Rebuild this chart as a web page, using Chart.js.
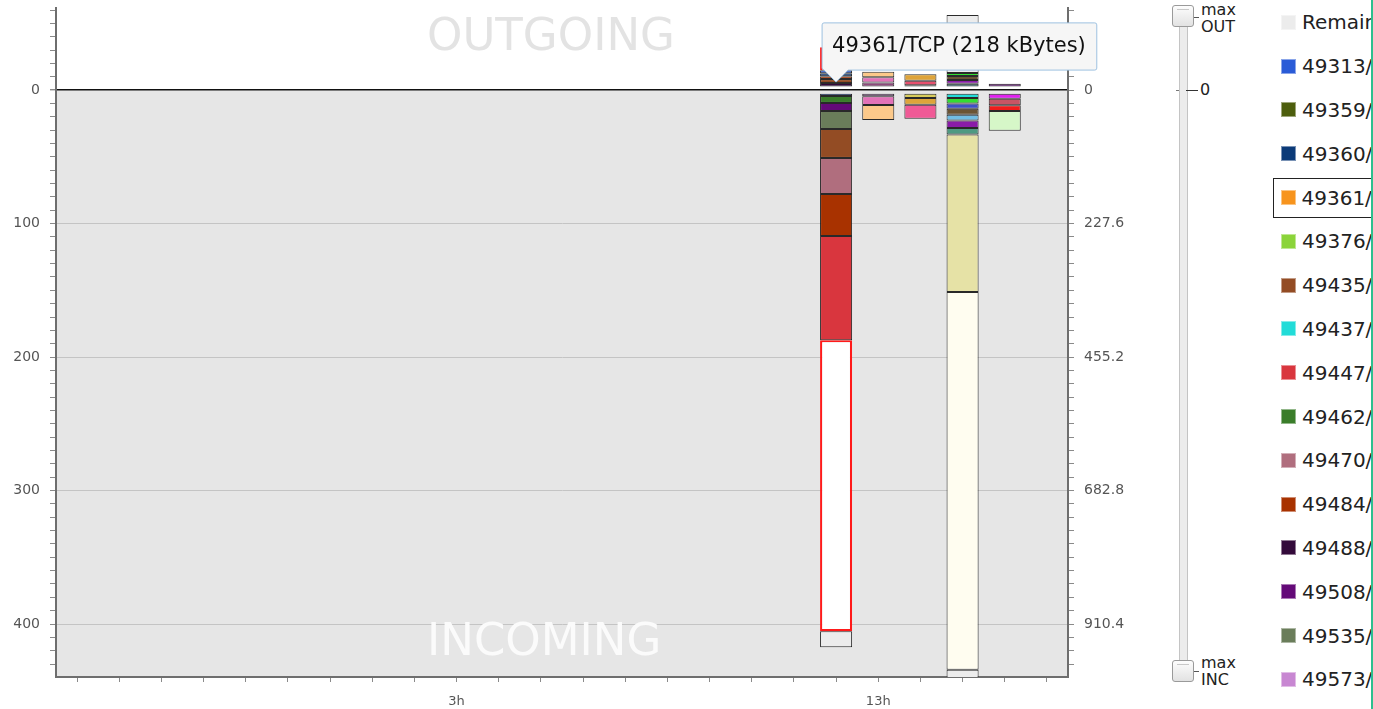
<!DOCTYPE html>
<html>
<head>
<meta charset="utf-8">
<script src="https://cdn.jsdelivr.net/npm/chart.js@4/dist/chart.umd.min.js"></script>
<style>
  html, body { margin: 0; padding: 0; background: #fff; width: 1373px; height: 709px; overflow: hidden; }
  body { position: relative; font-family: "DejaVu Sans", sans-serif; }
  #chart { position: absolute; left: 0; top: 0; }
  .track { position: absolute; left: 1179px; top: 20px; width: 7px; height: 645px; background: #ececec;
           border: 1px solid #c4c4c4; }
  .knob { position: absolute; left: 1172px; width: 22px; height: 22px; border: 1px solid #9a9a9a; border-radius: 3px;
          background: linear-gradient(#fdfdfd, #e2e2e2); box-sizing: border-box; }
  .knob::after { content: ""; position: absolute; left: 4px; right: 4px; top: 3px; height: 1px; background: #c8c8c8; }
  .knob-tick { position: absolute; left: 1194px; width: 5px; height: 1px; background: #555; }
  .sl-text { position: absolute; left: 1201px; font-size: 16px; line-height: 17px; color: #222; }
  .zero-mark { position: absolute; left: 1176px; height: 1px; }
  .zero-mark .dot { position: absolute; left: 0; top: 0; width: 3px; height: 1px; background: #777; }
  .zero-mark .bar { position: absolute; left: 10px; top: 0; width: 12px; height: 1px; background: #333; }
  .zero-mark .txt { position: absolute; left: 24px; top: -10px; font-size: 16px; line-height: 20px; color: #222; }
  #legend { position: absolute; left: 1273px; top: 0; width: 98px; height: 709px; overflow: hidden; }
  .item { position: absolute; left: 0; width: 140px; height: 40px; box-sizing: border-box; padding-left: 8px;
          display: flex; align-items: center; white-space: nowrap; font-size: 20px; color: #222; }
  .item.active { border: 1.5px solid #222; padding-left: 6.5px; }
  .swatch { width: 15px; height: 15px; margin-right: 6px; box-sizing: border-box; border: 1px solid rgba(255,255,255,0.45); flex: none; }
  #edge { position: absolute; left: 1371px; top: 0; width: 2px; height: 709px; background: #2ebf8e; }
</style>
</head>
<body>
<canvas id="chart" width="1140" height="709"></canvas>

<div class="track"></div>
<div class="knob" style="top:5px"></div>
<div class="knob-tick" style="top:17px"></div>
<div class="sl-text" style="top:1px">max<br>OUT</div>
<div class="zero-mark" id="zeroMark"><div class="dot"></div><div class="bar"></div><div class="txt">0</div></div>
<div class="knob" style="top:660px"></div>
<div class="knob-tick" style="top:671px"></div>
<div class="sl-text" style="top:654px">max<br>INC</div>

<div id="legend"></div>
<div id="edge"></div>

<script>
// Hourly slots shown on the time axis
const hours = ['18h', '19h', '20h', '21h', '22h', '23h', '0h', '1h', '2h', '3h', '4h', '5h',
               '6h', '7h', '8h', '9h', '10h', '11h', '12h', '13h', '14h', '15h', '16h', '17h'];
const labelledHours = ['3h', '13h'];

// Ports in legend order and their colours
const ports = ['Remaining', '49313/TCP', '49359/TCP', '49360/TCP', '49361/TCP', '49376/TCP', '49435/TCP',
               '49437/TCP', '49447/TCP', '49462/TCP', '49470/TCP', '49484/TCP', '49488/TCP', '49508/TCP',
               '49535/TCP', '49573/TCP', '49590/TCP', '49612/TCP', '49630/TCP', '49651/TCP', '49661/TCP',
               '49677/TCP', '49702/TCP', '49715/TCP', '49733/TCP', '49750/TCP', '49768/TCP', '49781/TCP',
               '49803/TCP', '49826/TCP', '49840/TCP', '49857/TCP', '49872/TCP', '49890/TCP', '49904/TCP',
               '49921/TCP', '49938/TCP'];
const portColors = ['#ececec', '#2a5bd7', '#4d5e0d', '#0b3a78', '#f7941d', '#8bd43a', '#934c24',
                    '#22dcd8', '#d9363e', '#3a7d2a', '#b06e7e', '#a83200', '#330a3a', '#640a78',
                    '#6a7d5a', '#c887d2', '#fcc98a', '#e272b8', '#8e4a7c', '#dea43a', '#d89530',
                    '#e8506e', '#d8cc5a', '#f05a96', '#33dd33', '#6b5434', '#3f4fc8', '#72bde3',
                    '#8a1ca8', '#2e6468', '#4e9a82', '#e6e2a6', '#fffdf0', '#e020f0', '#c85565',
                    '#f01c1c', '#d6f7c8'];

// kBytes per port and hour, listed from the zero line outwards
const out12Ports = ['49488/TCP', '49435/TCP', '49484/TCP', '49360/TCP', '49313/TCP', '49361/TCP'];
const out12KB = [3.0, 3.0, 2.2, 2.2, 2.2, 17.2];
const in12Ports = ['49313/TCP', '49462/TCP', '49508/TCP', '49535/TCP', '49435/TCP', '49470/TCP',
                   '49484/TCP', '49447/TCP', '49361/TCP', 'Remaining'];
const in12KB = [2.2, 5.2, 6.0, 13.5, 21.7, 27.0, 31.5, 78.0, 218, 12.0];

const out13Ports = ['49630/TCP', '49612/TCP', '49590/TCP'];
const out13KB = [3.4, 3.9, 4.2];
const in13Ports = ['49573/TCP', '49612/TCP', '49590/TCP'];
const in13KB = [2.4, 6.6, 11.2];

const out14Ports = ['49661/TCP', '49677/TCP', '49651/TCP'];
const out14KB = [1.3, 3.4, 5.0];
const in14Ports = ['49702/TCP', '49651/TCP', '49715/TCP'];
const in14KB = [3.7, 5.0, 10.5];

const out15Ports = ['49826/TCP', '49803/TCP', '49750/TCP', '49733/TCP', 'Remaining'];
const out15KB = [2.5, 2.8, 3.0, 2.2, 43.5];
const in15Ports = ['49437/TCP', '49733/TCP', '49768/TCP', '49750/TCP', '49781/TCP', '49803/TCP',
                   '49840/TCP', '49857/TCP', '49872/TCP', 'Remaining'];
const in15KB = [3.7, 4.1, 3.9, 4.5, 4.3, 5.6, 4.9, 118, 283, 10.0];

const out16Ports = ['49508/TCP'];
const out16KB = [2.5];
const in16Ports = ['49890/TCP', '49904/TCP', '49921/TCP', '49938/TCP'];
const in16KB = [4.3, 4.9, 4.3, 14.8];

// Highlighted port / hour (tooltip target)
const hoveredPort = '49361/TCP';
const hoveredHour = '12h';

// Axis ranges (kBytes) and the secondary axis factor
const yMin = -61.5;
const yMax = 439.7;
const rightAxisFactor = 2.276;

const columns = [
  { hour: '12h', outPorts: out12Ports, outKB: out12KB, inPorts: in12Ports, inKB: in12KB },
  { hour: '13h', outPorts: out13Ports, outKB: out13KB, inPorts: in13Ports, inKB: in13KB },
  { hour: '14h', outPorts: out14Ports, outKB: out14KB, inPorts: in14Ports, inKB: in14KB },
  { hour: '15h', outPorts: out15Ports, outKB: out15KB, inPorts: in15Ports, inKB: in15KB },
  { hour: '16h', outPorts: out16Ports, outKB: out16KB, inPorts: in16Ports, inKB: in16KB }
];

const colorOf = p => portColors[ports.indexOf(p)];

// One dataset per stacked segment; outgoing traffic is negative (drawn above zero)
const datasets = [];
columns.forEach(col => {
  [['in', col.inPorts, col.inKB, 1], ['out', col.outPorts, col.outKB, -1]].forEach(([dir, list, vals, sgn]) => {
    list.forEach((port, i) => {
      const hot = port === hoveredPort && col.hour === hoveredHour;
      datasets.push({
        label: port,
        direction: dir,
        hour: col.hour,
        data: hours.map(h => (h === col.hour ? sgn * vals[i] : null)),
        backgroundColor: hot ? '#ffffff' : colorOf(port),
        borderColor: hot ? '#ff1a1a' : 'rgba(20,20,20,0.9)',
        borderWidth: hot ? 2.2 : 1,
        borderSkipped: false,
        stack: 'traffic',
        barPercentage: 0.76,
        categoryPercentage: 1
      });
    });
  });
});

const tickValues = [];
for (let v = -60; v <= 430; v += 10) tickValues.push(v);

// Grey backdrop for the incoming half, plus the two zone captions
const zones = {
  id: 'zones',
  beforeDraw(chart) {
    const { ctx, chartArea: a, scales } = chart;
    const y0 = scales.y.getPixelForValue(0);
    ctx.save();
    ctx.fillStyle = '#e6e6e6';
    ctx.fillRect(a.left, y0, a.right - a.left, a.bottom - y0);
    ctx.restore();
  },
  beforeDatasetsDraw(chart) {
    const { ctx, chartArea: a } = chart;
    const x = a.left + (a.right - a.left) * 0.3666;
    ctx.save();
    ctx.font = '45px "DejaVu Sans"';
    ctx.textAlign = 'left';
    ctx.textBaseline = 'alphabetic';
    ctx.fillStyle = '#e3e3e3';
    ctx.fillText('OUTGOING', x, a.top + 42);
    ctx.fillStyle = '#fbfbfb';
    ctx.fillText('INCOMING', x, a.bottom - 22);
    ctx.restore();
  }
};

// Small gap between the stacks and the zero line
const zeroGap = {
  id: 'zeroGap',
  afterDatasetsUpdate(chart) {
    const gap = 3;
    chart.data.datasets.forEach((ds, di) => {
      chart.getDatasetMeta(di).data.forEach((el, i) => {
        const v = ds.data[i];
        if (v == null) return;
        const s = v < 0 ? -gap : gap;
        el.y += s;
        el.base += s;
      });
    });
  }
};

Chart.Tooltip.positioners.aboveZero = function (items) {
  if (!items.length) return false;
  const el = items[0].element;
  return { x: el.x, y: this.chart.scales.y.getPixelForValue(0) - 8 };
};

const tickFont = { family: 'DejaVu Sans', size: 14 };
const xTickFont = { family: 'DejaVu Sans', size: 13 };

const chart = new Chart(document.getElementById('chart'), {
  type: 'bar',
  data: { labels: hours, datasets },
  plugins: [zones, zeroGap],
  options: {
    responsive: false,
    animation: false,
    events: [],
    layout: { padding: { top: 8, right: 0, bottom: 0, left: 0 } },
    plugins: {
      legend: { display: false },
      tooltip: {
        enabled: true,
        position: 'aboveZero',
        xAlign: 'left',
        yAlign: 'bottom',
        displayColors: false,
        backgroundColor: '#f6f6f6',
        borderColor: '#9ec1e0',
        borderWidth: 1,
        cornerRadius: 2,
        caretSize: 12,
        caretPadding: 0,
        padding: { left: 10, right: 11, top: 11, bottom: 11 },
        bodyColor: '#111',
        bodyFont: { family: 'DejaVu Sans', size: 21 },
        callbacks: {
          title: () => [],
          label: ctx => `${ctx.dataset.label} (${Math.abs(ctx.raw)} kBytes)`
        }
      }
    },
    scales: {
      x: {
        stacked: true,
        offset: true,
        grid: { display: true, drawOnChartArea: false, offset: false, tickLength: 5, color: '#8a8a8a', tickColor: '#8a8a8a' },
        border: { display: true, color: '#6e6e6e', width: 2 },
        ticks: {
          autoSkip: false, maxRotation: 0, padding: 12, color: '#555', font: xTickFont,
          callback: (v, i) => (labelledHours.includes(hours[i]) ? hours[i] : '')
        },
        afterFit(s) { s.height = 32; s.paddingLeft = 0; s.paddingRight = 0; }
      },
      y: {
        position: 'left',
        stacked: true,
        reverse: true,
        min: yMin,
        max: yMax,
        afterBuildTicks(s) { s.ticks = tickValues.map(v => ({ value: v })); },
        grid: {
          drawTicks: true,
          tickLength: 6,
          tickColor: '#8a8a8a',
          color: c => (c.tick.value === 0 ? '#111' : (c.tick.value > 0 && c.tick.value % 100 === 0 ? '#c4c4c4' : 'rgba(0,0,0,0)')),
          lineWidth: c => (c.tick.value === 0 ? 1.4 : 1)
        },
        border: { display: true, color: '#6e6e6e', width: 2 },
        ticks: {
          autoSkip: false, padding: 10, color: '#555', font: tickFont,
          callback: v => (v >= 0 && v % 100 === 0 ? String(v) : '')
        },
        afterFit(s) { s.width = 56; s.paddingTop = 0; s.paddingBottom = 0; }
      },
      y2: {
        position: 'right',
        reverse: true,
        min: yMin * rightAxisFactor,
        max: yMax * rightAxisFactor,
        afterBuildTicks(s) { s.ticks = tickValues.map(v => ({ value: v * rightAxisFactor })); },
        grid: { drawOnChartArea: false, drawTicks: true, tickLength: 6, tickColor: '#8a8a8a' },
        border: { display: true, color: '#6e6e6e', width: 2 },
        ticks: {
          autoSkip: false, padding: 10, color: '#555', font: tickFont,
          callback: v => {
            const k = Math.round(v / rightAxisFactor);
            if (k < 0 || k % 100 !== 0) return '';
            return k === 0 ? '0' : (k * rightAxisFactor).toFixed(1);
          }
        },
        afterFit(s) { s.width = 72; s.paddingTop = 0; s.paddingBottom = 0; }
      }
    }
  }
});

// Show the tooltip for the highlighted segment
const activeIndex = datasets.findIndex(d => d.label === hoveredPort && d.hour === hoveredHour && d.direction === 'in');
chart.tooltip.setActiveElements([{ datasetIndex: activeIndex, index: hours.indexOf(hoveredHour) }], { x: 0, y: 0 });
chart.update();

// Zero marker on the range slider
document.getElementById('zeroMark').style.top = Math.round(chart.scales.y.getPixelForValue(0)) + 'px';

// Legend
const legend = document.getElementById('legend');
ports.forEach((p, i) => {
  const item = document.createElement('div');
  item.className = 'item' + (p === hoveredPort ? ' active' : '');
  item.style.top = (2.3 + 43.8 * i) + 'px';
  const sw = document.createElement('span');
  sw.className = 'swatch';
  sw.style.background = portColors[i];
  const tx = document.createElement('span');
  tx.textContent = p;
  item.appendChild(sw);
  item.appendChild(tx);
  legend.appendChild(item);
});
</script>
</body>
</html>
